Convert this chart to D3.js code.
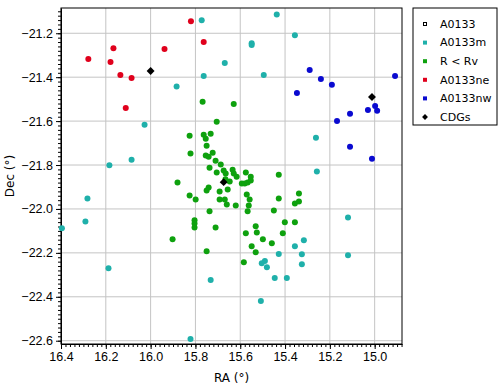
<!DOCTYPE html>
<html>
<head>
<meta charset="utf-8">
<script src="https://cdn.jsdelivr.net/npm/d3@7"></script>
<style>
  body { margin: 0; background: #ffffff; }
  svg { display: block; font-family: "DejaVu Sans", sans-serif; }
</style>
</head>
<body>
<div id="chart"></div>
<script>
// series values, [RA, Dec] in degrees
var a0133 = [];

var a0133m = [
  [15.772, -21.141], [15.669, -21.336], [15.763, -21.395], [15.884, -21.442], [16.027, -21.617],
  [16.085, -21.776], [16.184, -21.801], [15.437, -21.115], [15.356, -21.209], [15.549, -21.245],
  [15.549, -21.254], [15.495, -21.390], [15.262, -21.676], [15.258, -21.830], [16.282, -21.952],
  [16.291, -22.057], [16.396, -22.088], [16.188, -22.270], [15.732, -22.324], [15.822, -22.592],
  [15.119, -22.039], [15.119, -22.211], [15.316, -22.143], [15.356, -22.170], [15.428, -22.205],
  [15.325, -22.206], [15.490, -22.237], [15.504, -22.247], [15.481, -22.265], [15.325, -22.252],
  [15.446, -22.315], [15.392, -22.315], [15.508, -22.419]
];

var insideRv = [
  [15.768, -21.512], [15.705, -21.603], [15.629, -21.522], [15.826, -21.667], [15.763, -21.662],
  [15.732, -21.658], [15.754, -21.680], [15.750, -21.712], [15.822, -21.748], [15.723, -21.744],
  [15.754, -21.757], [15.741, -21.762], [15.710, -21.780], [15.687, -21.798], [15.737, -21.812],
  [15.674, -21.825], [15.665, -21.839], [15.705, -21.834], [15.634, -21.821], [15.629, -21.839],
  [15.616, -21.853], [15.575, -21.834], [15.553, -21.853], [15.428, -21.844], [15.880, -21.880],
  [15.666, -21.865], [15.647, -21.875], [15.593, -21.884], [15.580, -21.884], [15.567, -21.880],
  [15.553, -21.871], [15.741, -21.902], [15.750, -21.916], [15.692, -21.921], [15.656, -21.912],
  [15.826, -21.939], [15.799, -21.957], [15.692, -21.957], [15.669, -21.957], [15.660, -21.980],
  [15.620, -21.984], [15.571, -21.934], [15.558, -21.957], [15.562, -21.984], [15.567, -22.011],
  [15.428, -21.952], [15.338, -21.930], [15.356, -21.975], [15.338, -21.966], [15.450, -22.007],
  [15.737, -22.011], [15.804, -22.052], [15.804, -22.066], [15.804, -22.084], [15.710, -22.084],
  [15.902, -22.138], [15.750, -22.193], [15.401, -22.061], [15.356, -22.061], [15.531, -22.079],
  [15.526, -22.107], [15.575, -22.111], [15.410, -22.111], [15.499, -22.138], [15.459, -22.156],
  [15.549, -22.170], [15.531, -22.197], [15.584, -22.243]
];

var a0133ne = [
  [16.278, -21.317], [16.166, -21.268], [16.179, -21.331], [16.135, -21.390], [16.085, -21.404],
  [16.111, -21.540], [15.938, -21.272], [15.820, -21.145], [15.763, -21.240]
];

var a0133nw = [
  [15.290, -21.367], [15.240, -21.408], [15.191, -21.435], [15.347, -21.472], [14.909, -21.395],
  [15.030, -21.549], [14.998, -21.531], [14.989, -21.553], [15.110, -21.567], [15.168, -21.599],
  [15.110, -21.717], [15.012, -21.771]
];

var cdgs = [
  [16.000, -21.372], [15.012, -21.490], [15.674, -21.878]
];

var legendLabels = ["A0133", "A0133m", "R < Rv", "A0133ne", "A0133nw", "CDGs"];
var xTicks = [16.4, 16.2, 16.0, 15.8, 15.6, 15.4, 15.2, 15.0];
var yTicks = [-21.2, -21.4, -21.6, -21.8, -22.0, -22.2, -22.4, -22.6];

var W = 503, H = 387;
var pLeft = 61, pRight = 402, pTop = 8, pBottom = 344;

var svg = d3.select("#chart").append("svg")
  .attr("width", W)
  .attr("height", H);

var x = d3.scaleLinear().domain([16.4, 14.878]).range([pLeft, pRight]);
var y = d3.scaleLinear().domain([-22.615, -21.085]).range([pBottom, pTop]);

// grid
svg.append("g").selectAll("line")
  .data(xTicks).enter().append("line")
  .attr("x1", function (d) { return x(d); })
  .attr("x2", function (d) { return x(d); })
  .attr("y1", pTop).attr("y2", pBottom)
  .style("stroke", "#c4c4c4").style("stroke-width", 1);

svg.append("g").selectAll("line")
  .data(yTicks).enter().append("line")
  .attr("y1", function (d) { return y(d); })
  .attr("y2", function (d) { return y(d); })
  .attr("x1", pLeft).attr("x2", pRight)
  .style("stroke", "#c4c4c4").style("stroke-width", 1);

// minor ticks
var minorX = d3.range(0, 77).map(function (i) { return +(16.4 - i * 0.02).toFixed(2); })
  .filter(function (v) { return v >= 14.88; });
var minorY = d3.range(0, 77).map(function (i) { return +(-22.6 + i * 0.02).toFixed(2); })
  .filter(function (v) { return v <= -21.09; });

svg.append("g")
  .attr("transform", "translate(0," + pBottom + ")")
  .call(d3.axisBottom(x).tickValues(minorX).tickSize(3).tickSizeOuter(0).tickFormat(""))
  .call(function (g) { g.select(".domain").remove(); });

svg.append("g")
  .attr("transform", "translate(" + pLeft + ",0)")
  .call(d3.axisLeft(y).tickValues(minorY).tickSize(3).tickSizeOuter(0).tickFormat(""))
  .call(function (g) { g.select(".domain").remove(); });

// major axes
var xAxis = svg.append("g")
  .attr("transform", "translate(0," + pBottom + ")")
  .call(d3.axisBottom(x).tickValues(xTicks).tickSize(5).tickSizeOuter(0).tickPadding(3)
    .tickFormat(d3.format(".1f")));
xAxis.selectAll("text").style("font-size", "12.5px").style("fill", "#000");

var yAxis = svg.append("g")
  .attr("transform", "translate(" + pLeft + ",0)")
  .call(d3.axisLeft(y).tickValues(yTicks).tickSize(5).tickSizeOuter(0).tickPadding(3)
    .tickFormat(d3.format(".1f")));
yAxis.selectAll("text").style("font-size", "12.5px").style("fill", "#000");

// frame
svg.append("rect")
  .attr("x", pLeft).attr("y", pTop)
  .attr("width", pRight - pLeft).attr("height", pBottom - pTop)
  .style("fill", "none").style("stroke", "#000").style("stroke-width", 1);

// axis titles
svg.append("text")
  .attr("x", (pLeft + pRight) / 2).attr("y", 382)
  .attr("text-anchor", "middle")
  .style("font-size", "12px")
  .text("RA (°)");

svg.append("text")
  .attr("transform", "translate(14," + ((pTop + pBottom) / 2) + ") rotate(-90)")
  .attr("text-anchor", "middle")
  .style("font-size", "12px")
  .text("Dec (°)");

// points
function drawDots(data, colour) {
  svg.append("g").selectAll("circle")
    .data(data).enter().append("circle")
    .attr("cx", function (d) { return x(d[0]); })
    .attr("cy", function (d) { return y(d[1]); })
    .attr("r", 3)
    .style("fill", colour);
}

var colours = ["#000000", "#1fb0aa", "#0ea10e", "#e0001c", "#0a0ad0", "#000000"];

svg.append("g").selectAll("rect")
  .data(a0133).enter().append("rect")
  .attr("x", function (d) { return x(d[0]) - 2; })
  .attr("y", function (d) { return y(d[1]) - 2; })
  .attr("width", 4).attr("height", 4)
  .style("fill", "none").style("stroke", "#000");

drawDots(a0133m, colours[1]);
drawDots(insideRv, colours[2]);
drawDots(a0133ne, colours[3]);
drawDots(a0133nw, colours[4]);

var diamond = d3.symbol().type(d3.symbolDiamond2).size(40);
svg.append("g").selectAll("path")
  .data(cdgs).enter().append("path")
  .attr("transform", function (d) { return "translate(" + x(d[0]) + "," + y(d[1]) + ")"; })
  .attr("d", diamond)
  .style("fill", "#000");

// legend
var lx = 413, ly = 8, step = 18.6;
var legend = svg.append("g");
legend.append("rect")
  .attr("x", lx).attr("y", ly)
  .attr("width", 84).attr("height", 117)
  .style("fill", "#fff").style("stroke", "#000");

legend.selectAll("g")
  .data(legendLabels).enter().append("g")
  .attr("transform", function (d, i) { return "translate(" + (lx + 12) + "," + (ly + 16 + i * step) + ")"; })
  .each(function (d, i) {
    var g = d3.select(this);
    if (i === 0) {
      g.append("rect").attr("x", -1.5).attr("y", -1.5).attr("width", 3).attr("height", 3)
        .style("fill", "#fff").style("stroke", "#000").style("stroke-width", 1);
    } else if (i === 5) {
      g.append("path").attr("d", d3.symbol().type(d3.symbolDiamond2).size(22)).style("fill", "#000");
    } else {
      g.append("rect").attr("x", -2).attr("y", -2).attr("width", 4).attr("height", 4)
        .style("fill", colours[i]);
    }
    g.append("text")
      .attr("x", 15).attr("y", 0)
      .attr("dy", "0.35em")
      .style("font-size", "11px")
      .text(d);
  });
</script>
</body>
</html>
